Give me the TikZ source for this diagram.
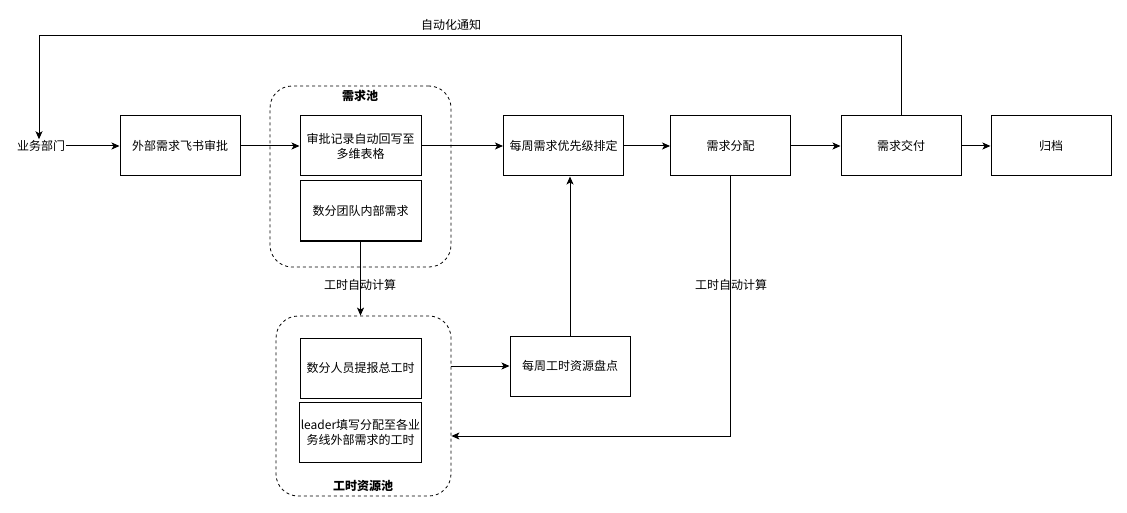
\documentclass[tikz,border=0pt]{standalone}
\usepackage{fontspec}
\newfontfamily\cjk{Noto Sans CJK SC}
\usetikzlibrary{arrows.meta}
\begin{document}
\begin{tikzpicture}[x=1pt,y=-1pt,
  every node/.style={font=\cjk\fontsize{12}{15}\selectfont},
  box/.style={draw,line width=1pt,minimum width=120pt,minimum height=60pt,inner sep=1pt,align=center},
  pool/.style={draw,line width=0.8pt,dash pattern=on 3pt off 3pt,rounded corners=22pt},
  arr/.style={line width=1pt,-{Stealth[length=8pt,width=7pt,inset=2pt]}},
  ln/.style={line width=1pt},
  lbl/.style={inner sep=1pt},
  plbl/.style={inner sep=1pt,font=\cjk\bfseries\fontsize{12}{15}\selectfont}]
\useasboundingbox (0,0) rectangle (1127,513);
% pools
\node[pool,minimum width=181pt,minimum height=181pt] (pool1) at (360.5,176.5) {};
\node[pool,minimum width=175pt,minimum height=180pt] (pool2) at (363.5,406) {};
\node[plbl] (p1lbl) at (360,96) {需求池};
\node[plbl] (p2lbl) at (363,486) {工时资源池};
% nodes
\node[lbl] (dept) at (41,146) {业务部门};
\node[box] (b1) at (180,146) {外部需求飞书审批};
\node[box,minimum width=121pt] (b2) at (360.5,146) {审批记录自动回写至\\多维表格};
\node[box,minimum width=121pt] (b3) at (360.5,211) {数分团队内部需求};
\node[box] (b4) at (563.5,146) {每周需求优先级排定};
\node[box] (b5) at (730.5,146) {需求分配};
\node[box] (b6) at (901,146) {需求交付};
\node[box] (b7) at (1051,146) {归档};
\node[box,minimum width=121pt] (b8) at (360.5,368) {数分人员提报总工时};
\node[box,minimum width=121pt] (b9) at (360.5,432) {leader填写分配至各业\\务线外部需求的工时};
\node[box] (b10) at (570,366) {每周工时资源盘点};
% labels
\node[lbl] (l1) at (451,25) {自动化通知};
\node[lbl] (l2) at (360,285) {工时自动计算};
\node[lbl] (l3) at (731,285) {工时自动计算};
% connectors
\draw[arr] (dept.east) -- (b1.west);
\draw[arr] (b1) -- (b2);
\draw[arr] (b2) -- (b4);
\draw[arr] (b4) -- (b5);
\draw[arr] (b5) -- (b6);
\draw[arr] (b6) -- (b7);
\coordinate (tr) at (901,36);
\coordinate (tl) at (39,36);
\draw[arr] (b6.north) -- (tr) -- (tl) -- (dept.north -| tl);
\draw[arr] (b3.south) -- (b3.south |- pool2.north);
\draw[arr] (pool2.east |- b10.west) -- (b10.west);
\draw[arr] (b10.north) -- (b10.north |- b4.south);
\coordinate (ret) at ([yshift=-4pt]b9.east -| pool2.east);
\draw[arr] (b5.south) |- (ret);
\end{tikzpicture}
\end{document}
